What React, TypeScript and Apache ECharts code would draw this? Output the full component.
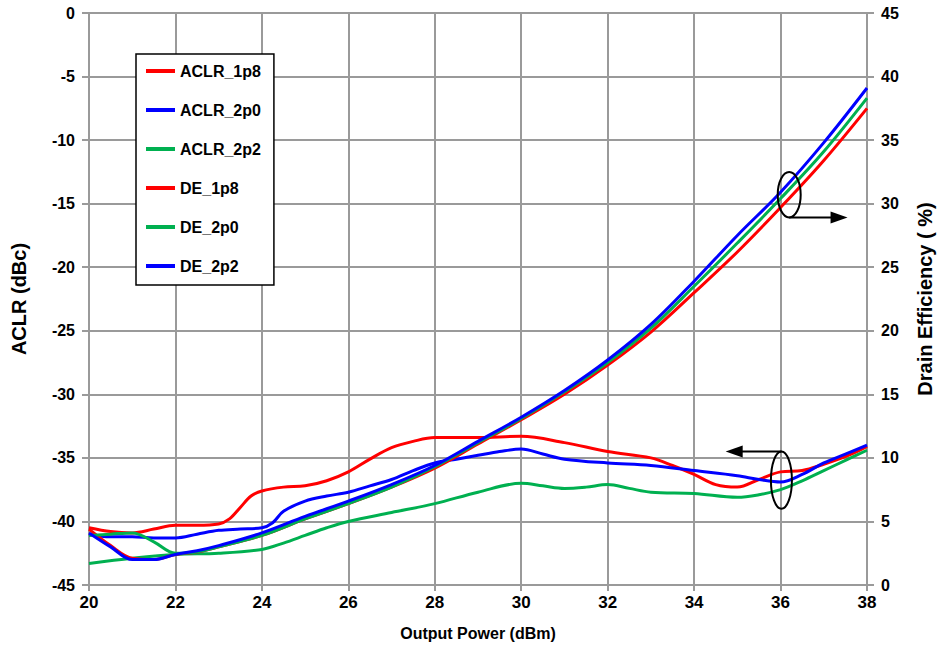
import React, { useEffect, useRef } from "react";
import * as echarts from "echarts";

// ---- Data ----
const xTicksMin = 20;
const xTicksMax = 38;

const aclr1p8X = [20, 20.5, 21, 21.5, 22, 22.5, 23, 23.25, 23.5, 23.75, 24, 24.5, 25, 25.5, 26, 26.5, 27, 27.5, 28, 29, 30, 31, 32, 33, 33.5, 34, 34.5, 35, 35.5, 36, 36.5, 37, 37.5, 38];
const aclr1p8Y = [-40.5, -40.8, -40.9, -40.6, -40.3, -40.3, -40.2, -39.8, -38.9, -38.0, -37.6, -37.3, -37.2, -36.8, -36.1, -35.1, -34.2, -33.7, -33.4, -33.4, -33.3, -33.8, -34.5, -35.0, -35.6, -36.3, -37.1, -37.3, -36.7, -36.1, -36.0, -35.5, -34.9, -34.1];

const aclr2p0X = [20, 20.5, 21, 21.5, 22, 22.5, 23, 23.5, 24, 24.25, 24.5, 25, 25.5, 26, 26.5, 27, 27.5, 28, 28.5, 29, 29.5, 30, 30.5, 31, 32, 33, 34, 35, 35.5, 36, 36.5, 37, 37.5, 38];
const aclr2p0Y = [-41.0, -41.2, -41.2, -41.3, -41.3, -41.0, -40.7, -40.6, -40.5, -40.1, -39.2, -38.4, -38.0, -37.7, -37.2, -36.7, -36.0, -35.4, -35.1, -34.8, -34.5, -34.3, -34.7, -35.1, -35.4, -35.6, -36.0, -36.4, -36.7, -36.9, -36.3, -35.4, -34.7, -34.0];

const aclr2p2X = [20, 21, 22, 23, 24, 24.5, 25, 25.5, 26, 27, 28, 29, 30, 30.5, 31, 31.5, 32, 32.5, 33, 34, 35, 35.5, 36, 36.5, 37, 37.5, 38];
const aclr2p2Y = [-43.3, -42.9, -42.6, -42.5, -42.2, -41.7, -41.1, -40.5, -40.0, -39.3, -38.6, -37.7, -37.0, -37.2, -37.4, -37.3, -37.1, -37.4, -37.7, -37.8, -38.1, -37.9, -37.5, -36.8, -36.0, -35.2, -34.4];

const deX = [20, 20.5, 21, 21.5, 22, 22.5, 23, 24, 25, 26, 27, 28, 29, 30, 31, 32, 33, 34, 35, 36, 37, 38];
const de1p8Y = [4.4, 3.1, 2.1, 2.0, 2.4, 2.6, 3.0, 3.9, 5.2, 6.4, 7.7, 9.2, 11.1, 13.0, 15.0, 17.3, 19.9, 23.0, 26.2, 29.7, 33.4, 37.5];
const de2p0Y = [3.9, 4.0, 4.1, 3.4, 2.5, 2.6, 3.0, 3.9, 5.2, 6.4, 7.7, 9.3, 11.2, 13.1, 15.2, 17.5, 20.2, 23.5, 26.9, 30.4, 34.1, 38.3];
const de2p2Y = [4.1, 3.0, 2.0, 2.0, 2.4, 2.7, 3.1, 4.1, 5.4, 6.6, 7.9, 9.4, 11.3, 13.2, 15.3, 17.7, 20.5, 23.9, 27.5, 30.9, 34.8, 39.1];

const seriesNames = ["ACLR_1p8", "ACLR_2p0", "ACLR_2p2", "DE_1p8", "DE_2p0", "DE_2p2"];

const RED = "#ff0000";
const BLUE = "#0000ff";
const GREEN = "#00b050";
const FONT = "'Liberation Sans', Arial, Helvetica, sans-serif";
const GRID_COLOR = "#9a9a9a";

const pairs = (xs: number[], ys: number[]) => xs.map((x, i) => [x, ys[i]]);

export default function App() {
  const ref = useRef<HTMLDivElement>(null);

  useEffect(() => {
    document.body.style.margin = "0";
    const chart = echarts.init(ref.current!, undefined, { renderer: "svg" });

    const mkSeries = (name: string, color: string, data: number[][], yAxisIndex: number) => ({
      name,
      type: "line",
      yAxisIndex,
      data,
      smooth: 0.35,
      symbol: "none",
      showSymbol: false,
      lineStyle: { color, width: 3 },
      itemStyle: { color },
    });

    const axisLabel = { color: "#000", fontWeight: "bold", fontSize: 16, fontFamily: FONT };

    chart.setOption({
      animation: false,
      backgroundColor: "#fff",
      grid: { left: 89, right: 70, top: 13, bottom: 63, containLabel: false, outerBoundsMode: "none" },
      legend: {
        orient: "vertical",
        left: 136,
        top: 54,
        padding: [9, 13, 11, 10],
        icon: "rect",
        itemWidth: 29,
        itemHeight: 4,
        itemGap: 23,
        backgroundColor: "#fff",
        borderColor: "#000",
        borderWidth: 1.5,
        data: seriesNames,
        textStyle: { color: "#000", fontWeight: "bold", fontSize: 16, fontFamily: FONT, lineHeight: 16 },
      },
      xAxis: {
        type: "value",
        min: xTicksMin,
        max: xTicksMax,
        interval: 2,
        name: "Output Power (dBm)",
        nameLocation: "middle",
        nameGap: 40,
        nameTextStyle: { color: "#000", fontWeight: "bold", fontSize: 16, fontFamily: FONT },
        axisLine: { show: true, onZero: false, lineStyle: { color: GRID_COLOR, width: 2 } },
        axisTick: { show: true, length: 6, lineStyle: { color: GRID_COLOR, width: 2 } },
        axisLabel: { ...axisLabel, fontSize: 17, margin: 9 },
        splitLine: { show: true, lineStyle: { color: GRID_COLOR, width: 2 } },
      },
      yAxis: [
        {
          type: "value",
          min: -45,
          max: 0,
          interval: 5,
          position: "left",
          name: "ACLR (dBc)",
          nameLocation: "middle",
          nameGap: 60,
          nameTextStyle: { color: "#000", fontWeight: "bold", fontSize: 20, fontFamily: FONT },
          axisLine: { show: true, lineStyle: { color: GRID_COLOR, width: 2 } },
          axisTick: { show: true, length: 7, lineStyle: { color: GRID_COLOR, width: 2 } },
          axisLabel: { ...axisLabel, margin: 14 },
          splitLine: { show: true, lineStyle: { color: GRID_COLOR, width: 2 } },
        },
        {
          type: "value",
          min: 0,
          max: 45,
          interval: 5,
          position: "right",
          name: "Drain Efficiency ( %)",
          nameLocation: "middle",
          nameGap: 48,
          nameRotate: 90,
          nameTextStyle: { color: "#000", fontWeight: "bold", fontSize: 20, fontFamily: FONT },
          axisLine: { show: true, lineStyle: { color: GRID_COLOR, width: 2 } },
          axisTick: { show: true, length: 7, lineStyle: { color: GRID_COLOR, width: 2 } },
          axisLabel: { ...axisLabel, margin: 14 },
          splitLine: { show: false },
        },
      ],
      series: [
        mkSeries("ACLR_1p8", RED, pairs(aclr1p8X, aclr1p8Y), 0),
        mkSeries("ACLR_2p0", BLUE, pairs(aclr2p0X, aclr2p0Y), 0),
        mkSeries("ACLR_2p2", GREEN, pairs(aclr2p2X, aclr2p2Y), 0),
        mkSeries("DE_1p8", RED, pairs(deX, de1p8Y), 1),
        mkSeries("DE_2p0", GREEN, pairs(deX, de2p0Y), 1),
        mkSeries("DE_2p2", BLUE, pairs(deX, de2p2Y), 1),
      ],
    });

    // Annotations (ellipses + arrows) placed via the axes' own scales
    const c1 = chart.convertToPixel({ xAxisIndex: 0, yAxisIndex: 1 } as any, [36.2, 30.7]) as number[];
    const tip1 = chart.convertToPixel({ xAxisIndex: 0, yAxisIndex: 1 } as any, [37.55, 30.7]) as number[];
    const c2 = chart.convertToPixel({ xAxisIndex: 0, yAxisIndex: 0 } as any, [36.02, -36.75]) as number[];
    const tip2 = chart.convertToPixel({ xAxisIndex: 0, yAxisIndex: 0 } as any, [34.73, -36.75]) as number[];
    const rx1 = 11.5, ry1 = 22.7, rx2 = 10.5, ry2 = 28.7;
    const headL = 17, headW = 6;
    const y1 = c1[1] + ry1;
    const y2 = c2[1] - ry2;
    const stroke = { stroke: "#000", lineWidth: 2, fill: "none" };

    chart.setOption({
      graphic: [
        { type: "ellipse", z: 100, shape: { cx: c1[0], cy: c1[1], rx: rx1, ry: ry1 }, style: stroke },
        { type: "line", z: 100, shape: { x1: c1[0], y1, x2: tip1[0] - headL + 2, y2: y1 }, style: { stroke: "#000", lineWidth: 2 } },
        {
          type: "polygon", z: 100,
          shape: { points: [[tip1[0], y1], [tip1[0] - headL, y1 - headW], [tip1[0] - headL, y1 + headW]] },
          style: { fill: "#000" },
        },
        { type: "ellipse", z: 100, shape: { cx: c2[0], cy: c2[1], rx: rx2, ry: ry2 }, style: stroke },
        { type: "line", z: 100, shape: { x1: c2[0], y1: y2, x2: tip2[0] + headL - 2, y2 }, style: { stroke: "#000", lineWidth: 2 } },
        {
          type: "polygon", z: 100,
          shape: { points: [[tip2[0], y2], [tip2[0] + headL, y2 - headW], [tip2[0] + headL, y2 + headW]] },
          style: { fill: "#000" },
        },
      ],
    });

    return () => chart.dispose();
  }, []);

  return (
    <div
      ref={ref}
      style={{ position: "fixed", left: 0, top: 0, width: 937, height: 648, background: "#fff" }}
    />
  );
}
